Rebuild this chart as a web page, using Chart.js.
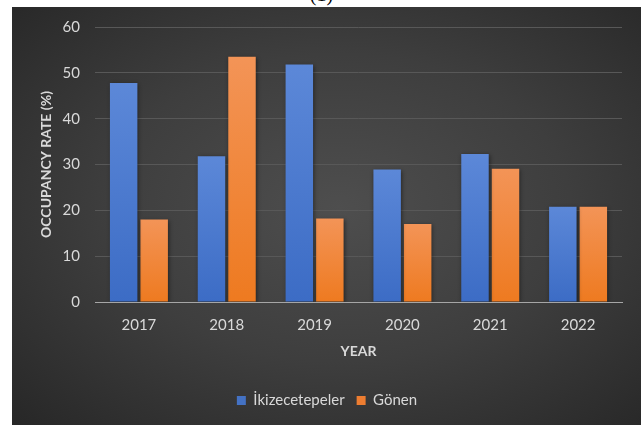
<!DOCTYPE html>
<html>
<head>
<meta charset="utf-8">
<script src="https://cdn.jsdelivr.net/npm/chart.js@4"></script>
<style>
  html, body { margin: 0; padding: 0; background: #fff; }
  body { width: 643px; height: 425px; position: relative; overflow: hidden; }
  #caption {
    position: absolute; left: 0; width: 643px; top: -16px;
    text-align: center; font-family: "Liberation Serif", serif; font-size: 20px; line-height: 20px;
    color: #000;
  }
  #panel {
    position: absolute; left: 12px; top: 7px; width: 629px; height: 418px;
    background: radial-gradient(ellipse at 52% 48%, #4e4e4e 0%, #3e3e3e 50%, #272727 100%);
  }
</style>
</head>
<body>
<div id="caption">(1)</div>
<div id="panel"><canvas id="occChart" width="629" height="418"></canvas></div>
<script>
var years = ['2017', '2018', '2019', '2020', '2021', '2022'];
var ikizcetepeler = [47.8, 31.8, 51.8, 28.9, 32.3, 20.8];
var gonen = [18.0, 53.5, 18.2, 17.0, 29.1, 20.8];
var seriesNames = ['İkizecetepeler', 'Gönen'];

var txt = '#d9d9d9';

// vertical gradient on every bar, lighter at the top
function barFill(top, bottom) {
  return function(c) {
    var chart = c.chart;
    if (!chart.chartArea || c.raw === undefined) return bottom;
    var y = chart.scales.y;
    var g = chart.ctx.createLinearGradient(0, y.getPixelForValue(c.raw), 0, y.getPixelForValue(0));
    g.addColorStop(0, top);
    g.addColorStop(1, bottom);
    return g;
  };
}

var barShadow = {
  id: 'barShadow',
  beforeDatasetsDraw: function(chart) {
    var ctx = chart.ctx;
    ctx.save();
    ctx.shadowColor = 'rgba(0,0,0,0.45)';
    ctx.shadowBlur = 4;
    ctx.shadowOffsetX = 1;
    ctx.shadowOffsetY = 1;
  },
  afterDatasetsDraw: function(chart) {
    chart.ctx.restore();
  }
};

var ctxB = document.getElementById('occChart').getContext('2d');
var occChart = new Chart(ctxB, {
  type: 'bar',
  data: {
    labels: years,
    datasets: [{
      label: seriesNames[0],
      data: ikizcetepeler,
      backgroundColor: barFill('#5c88d8', '#3c6cc5'),
      legendColor: '#4472c4'
    }, {
      label: seriesNames[1],
      data: gonen,
      backgroundColor: barFill('#f39457', '#ee7a20'),
      legendColor: '#ed7d31'
    }]
  },
  options: {
    responsive: false,
    animation: false,
    categoryPercentage: 0.695,
    barPercentage: 0.9,
    layout: { padding: { left: 20, right: 19, top: 20, bottom: 7 } },
    plugins: {
      tooltip: { enabled: false },
      legend: {
        position: 'bottom',
        labels: {
          color: txt,
          font: { family: 'Lato', size: 15 },
          boxWidth: 9,
          boxHeight: 9,
          padding: 12,
          generateLabels: function(chart) {
            return chart.data.datasets.map(function(ds, i) {
              return {
                text: ds.label,
                fillStyle: ds.legendColor,
                strokeStyle: ds.legendColor,
                lineWidth: 0,
                fontColor: txt,
                datasetIndex: i
              };
            });
          }
        }
      }
    },
    scales: {
      x: {
        grid: { display: false, drawTicks: false },
        border: { display: true, color: '#a6a6a6', width: 1 },
        ticks: { color: txt, font: { family: 'Lato', size: 15 }, padding: 14 },
        title: {
          display: true, text: 'YEAR', color: txt,
          font: { family: 'Lato', size: 14, weight: 'bold' },
          padding: { top: 0, bottom: 21 }
        },
        afterFit: function(s) { s.height = 79; }
      },
      y: {
        min: 0, max: 60,
        ticks: { stepSize: 10, color: txt, font: { family: 'Lato', size: 15 }, padding: 15 },
        grid: { color: '#585858', lineWidth: 1, drawTicks: false },
        border: { display: false },
        title: {
          display: true, text: 'OCCUPANCY RATE (%)', color: txt,
          font: { family: 'Lato', size: 14, weight: 'bold' },
          padding: { top: 6, bottom: 0 }
        },
        afterFit: function(s) {
          s.width = 63;
          s.paddingTop = 0;
          s.paddingBottom = 0;
        }
      }
    }
  },
  plugins: [barShadow]
});
</script>
</body>
</html>
